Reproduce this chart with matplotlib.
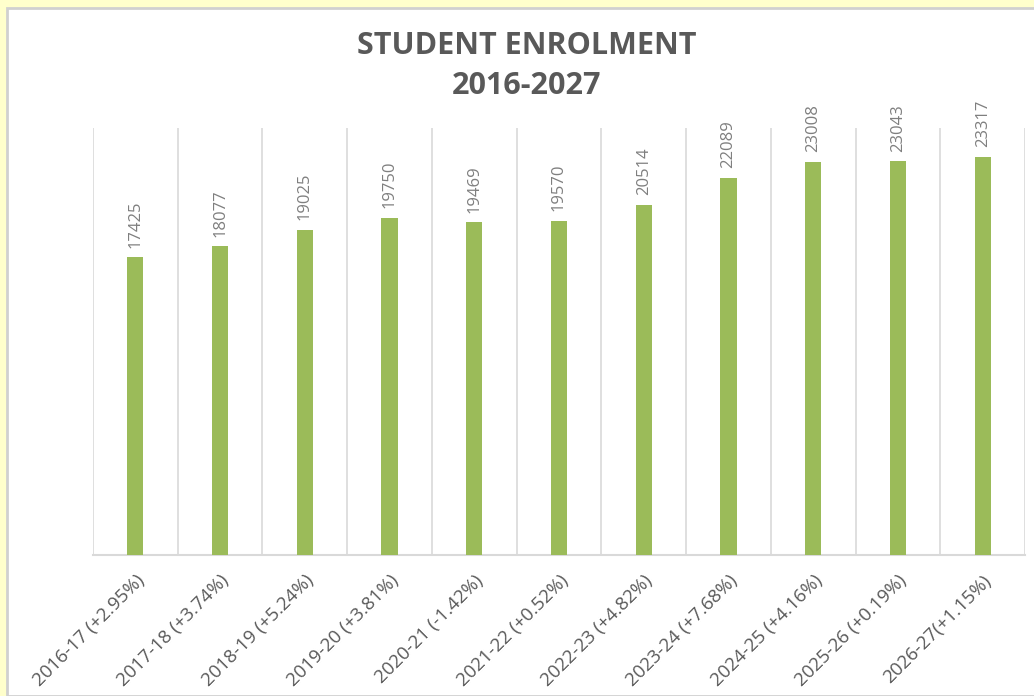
import matplotlib.pyplot as plt
from matplotlib.patches import Rectangle

# enrolment figures per academic year
years = ['2016-17 (+2.95%)', '2017-18 (+3.74%)', '2018-19 (+5.24%)',
         '2019-20 (+3.81%)', '2020-21 (-1.42%)', '2021-22 (+0.52%)',
         '2022-23 (+4.82%)', '2023-24 (+7.68%)', '2024-25 (+4.16%)',
         '2025-26 (+0.19%)', '2026-27(+1.15%)']
students = [17425, 18077, 19025, 19750, 19469, 19570,
            20514, 22089, 23008, 23043, 23317]

bar_col = '#9BBB59'
txt_col = '#595959'
grid_col = '#D9D9D9'

plt.rcParams['font.family'] = ['Open Sans', 'DejaVu Sans']

fig = plt.figure(figsize=(10.34, 6.96), dpi=100)
fig.patch.set_facecolor('#FFFFCC')
# white chart panel with grey frame
fig.patches.append(Rectangle((7 / 1034, 0), 1.0, 1 - 8 / 696, transform=fig.transFigure,
                             facecolor='white', edgecolor='#D0D0D0', linewidth=2, zorder=-5))

ax = fig.add_axes([93 / 1034, 1 - 555 / 696, (1025 - 93) / 1034, (555 - 128) / 696])
ax.set_facecolor('white')
x = list(range(len(years)))
ax.bar(x, students, width=0.19, color=bar_col, zorder=3)

for i, v in enumerate(students):
    ax.annotate(str(v), (i, v), xytext=(0, 7), textcoords='offset points',
                rotation=90, ha='center', va='bottom', fontsize=12, color='#7F7F7F')

ax.set_xlim(-0.5, len(years) - 0.5)
ax.set_ylim(0, 25000)
for b in range(len(years) + 1):
    ax.axvline(b - 0.5, color=grid_col, linewidth=1.2, zorder=1)

ax.set_xticks(x)
ax.set_xticklabels(years, rotation=45, ha='right', rotation_mode='anchor',
                   fontsize=13.5, color=txt_col)
ax.tick_params(axis='x', length=0, pad=12)
ax.set_yticks([])
for s in ['top', 'left', 'right']:
    ax.spines[s].set_visible(False)
ax.spines['bottom'].set_color(grid_col)
ax.spines['bottom'].set_linewidth(1.5)

fig.text(527 / 1034, 1 - 46 / 696, 'STUDENT ENROLMENT', ha='center', va='center',
         fontsize=22, fontweight='bold', color=txt_col)
fig.text(527 / 1034, 1 - 86 / 696, '2016-2027', ha='center', va='center',
         fontsize=22, fontweight='bold', color=txt_col)

fig.savefig('out.png', dpi=100, facecolor=fig.get_facecolor())
